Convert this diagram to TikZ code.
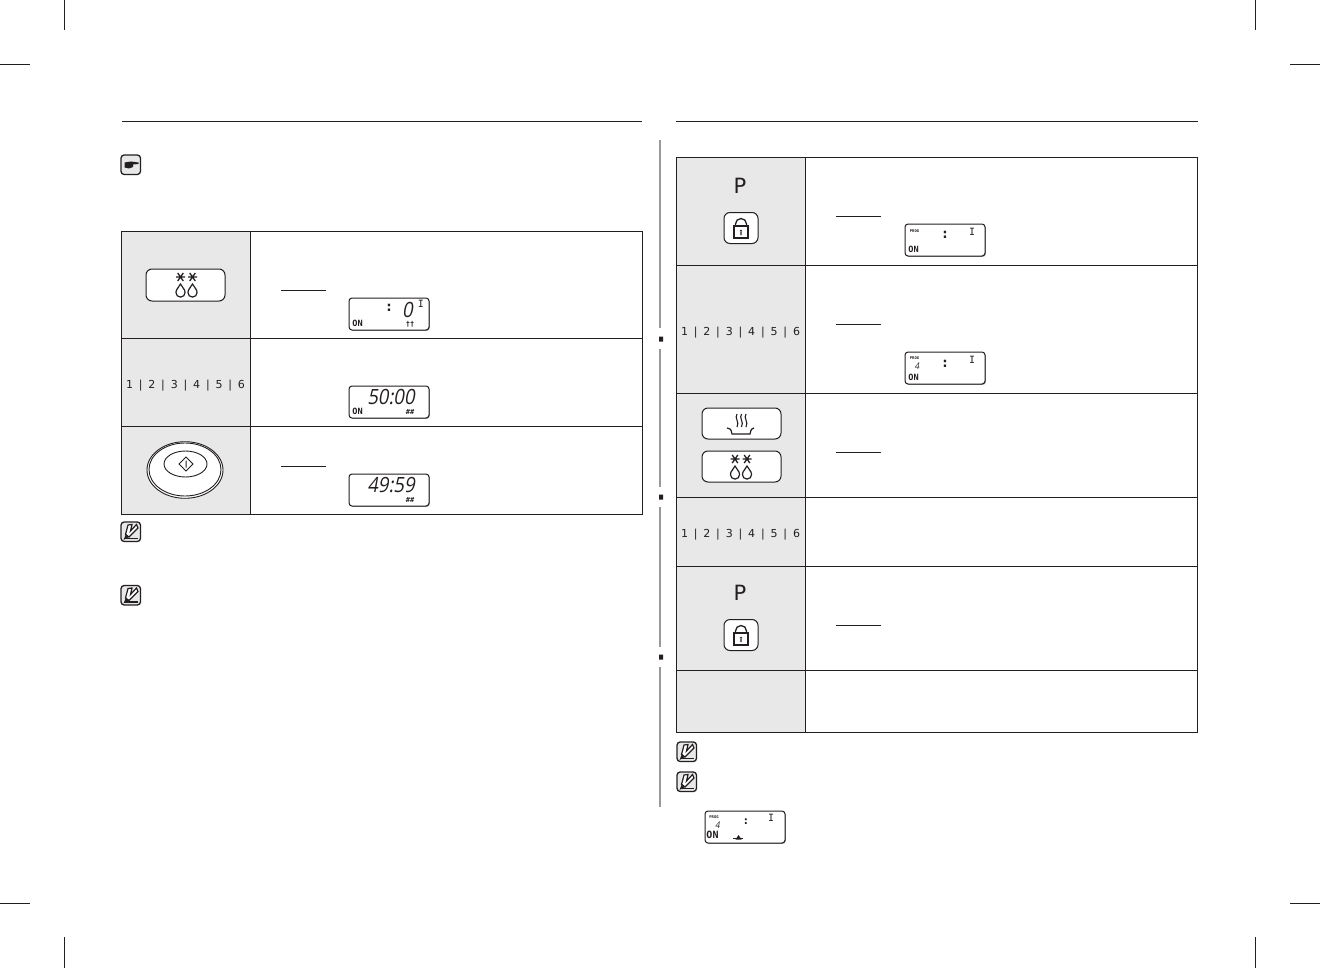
\documentclass[tikz,border=0pt]{standalone}
\usepackage{fontspec}
\setmainfont{DejaVu Sans}
\newfontfamily\lcdfont[FakeSlant=0.18,FakeStretch=0.88]{Open Sans}
\newfontfamily\lcdb{DejaVu Sans Mono}
\definecolor{cellg}{HTML}{E8E8E8}
\definecolor{ink}{HTML}{231F20}
\definecolor{railg}{HTML}{999999}
\tikzset{
  x=0.5pt,y=-0.5pt,
  hair/.style={draw=ink,line width=0.5pt},
  thin px/.style={draw=ink,line width=0.45pt},
  rule/.style={draw=ink,line width=0.5pt},
  cell/.style={fill=cellg},
  keycap/.style={draw=ink,line width=0.5pt,fill=white,rounded corners=3pt},
  lcdfr/.style={draw=ink,line width=0.5pt,rounded corners=1.5pt,fill=white},
  seg/.style={font=\lcdfont\fontsize{10.5}{10.5}\selectfont,inner sep=0pt,text=ink},
  dots/.style={font=\lcdb\bfseries\fontsize{7}{7}\selectfont,inner sep=0pt,text=ink},
  onlab/.style={font=\lcdb\bfseries\fontsize{4.3}{4.3}\selectfont,inner sep=0pt,text=ink},
  barI/.style={font=\lcdb\fontsize{5}{5}\selectfont,inner sep=0pt,text=ink},
  prog/.style={font=\lcdb\bfseries\fontsize{1.9}{2}\selectfont,inner sep=0pt,text=ink},
  marks/.style={font=\lcdb\bfseries\fontsize{3.5}{3.5}\selectfont,inner sep=0pt,text=ink},
  small four/.style={font=\lcdfont\fontsize{4.6}{5}\selectfont,inner sep=0pt,text=ink},
  pad/.style={font=\fontsize{5.5}{6}\selectfont,inner sep=0pt,text=ink},
  keyP/.style={font=\fontsize{10.5}{11}\selectfont,inner sep=0pt,text=ink},
  pics/lcd/.style={code={
    \path[fill=railg,rounded corners=1.5pt] (0.8,0.8) rectangle (80.8,32.8);
    \path[lcdfr] (0,0) rectangle (80,32);
  }},
  pics/drops/.style={code={
    \foreach \s in {-6,6}{
      \draw[thin px,line width=0.65pt] (\s-4.5,-9)--(\s+4.5,-9) (\s-2.8,-13)--(\s+2.8,-5) (\s+2.8,-13)--(\s-2.8,-5);
      \draw[thin px,line width=0.6pt] (\s,-2) .. controls (\s+1,1) and (\s+4.6,3) .. (\s+4.6,6.5) arc (0:180:4.6) .. controls (\s-4.6,3) and (\s-1,1) .. (\s,-2) -- cycle;
    }
  }},
  pics/lock/.style={code={
    \path[keycap] (-17,-15.5) rectangle (17,15.5);
    \draw[thin px,line width=0.65pt] (-7,-2) rectangle (7,10);
    \draw[thin px,line width=0.65pt] (-5.5,-2) -- (-5.5,-4) arc (180:360:5.5) -- (5.5,-2);
    \fill[ink] (0,3) circle (1.3) (-0.6,3) rectangle (0.6,7);
  }},
  pics/note/.style={code={
    \path[draw=ink,line width=0.65pt,fill=cellg,rounded corners=1.6pt] (0,0) rectangle (19.5,19.5);
    \draw[ink,line width=0.6pt] (4,16.5) -- (17,16.5);
    \draw[ink,line width=0.6pt,fill=white] (4.5,12.5) -- (7,3) -- (11,2.5) -- (9.5,9) -- (15.5,2.5) -- (17,6) -- (8,15) -- cycle;
    \fill[ink] (2.5,18) -- (5,12) -- (8,15) -- cycle;
  }},
  pics/hand/.style={code={
    \path[draw=ink,line width=0.65pt,fill=cellg,rounded corners=1.6pt] (0,0) rectangle (19.5,19.5);
    \fill[ink] (3.5,7.5) -- (10,6.5) -- (17.5,7.5) -- (17.5,9) -- (12,9.5) -- (12,12) -- (8,13.5) -- (3.5,12.5) -- cycle;
  }},
}
\newcommand{\padrow}{\makebox[5.6pt]{1}\makebox[5.6pt]{|}\makebox[5.6pt]{2}\makebox[5.6pt]{|}\makebox[5.6pt]{3}\makebox[5.6pt]{|}\makebox[5.6pt]{4}\makebox[5.6pt]{|}\makebox[5.6pt]{5}\makebox[5.6pt]{|}\makebox[5.6pt]{6}}
\begin{document}
\begin{tikzpicture}
\useasboundingbox (0,0) rectangle (1320,968);
\fill[white] (0,0) rectangle (1320,968);
% crop marks
\draw[rule] (64.5,0)--(64.5,30) (1255.5,0)--(1255.5,30) (64.5,937)--(64.5,968) (1255.5,937)--(1255.5,968)
  (0,64.5)--(30,64.5) (1290,64.5)--(1320,64.5) (0,903.5)--(30,903.5) (1290,903.5)--(1320,903.5);
% headers
\draw[rule] (122,121.5)--(642,121.5) (676,121.5)--(1198,121.5);
% centre rail
\draw[railg,line width=1pt] (660,140)--(660,328) (660,349)--(660,487) (660,507)--(660,647) (660,667)--(660,807);
\fill[ink] (659,336.5) rectangle (663,341.5) (659,494.5) rectangle (663,499.5) (659,654.5) rectangle (663,659.5);
% left table
\fill[cell] (121.5,231.5) rectangle (250.5,514.5);
\draw[hair] (121.5,231.5) rectangle (642.5,514.5) (250.5,231.5)--(250.5,514.5) (121.5,338.5)--(642.5,338.5) (121.5,426.5)--(642.5,426.5);
% right table
\fill[cell] (676.5,157.5) rectangle (805.5,732.5);
\draw[hair] (676.5,157.5) rectangle (1197.5,732.5) (805.5,157.5)--(805.5,732.5)
  (676.5,265.5)--(1197.5,265.5) (676.5,393.5)--(1197.5,393.5) (676.5,497.5)--(1197.5,497.5) (676.5,566.5)--(1197.5,566.5) (676.5,670.5)--(1197.5,670.5);
% underlines
\draw[rule] (281,290.5)--(326,290.5) (281,466.5)--(326,466.5) (836,216.5)--(881,216.5) (836,324.5)--(881,324.5) (836,452.5)--(881,452.5) (836,625.5)--(881,625.5);
% icons
\pic at (121,155) {hand};
\pic at (121,522) {note};
\pic at (121,585.5) {note};
\pic at (677,742) {note};
\pic at (677,772) {note};
% left keys
\path[keycap] (146,269) rectangle (225,301);
\pic at (186.5,286) {drops};
\node[pad] (padA) at (185.5,385.5) {\padrow};
\path[draw=ink,line width=0.45pt,fill=white] (185,470) ellipse (38 and 28.3);
\path[draw=ink,line width=0.45pt] (185,469.5) ellipse (36 and 26.5);
\path[draw=ink,line width=0.45pt] (185.5,464) ellipse (21.5 and 13);
\draw[thin px,line width=0.5pt] (186,457)--(193,464)--(186,471)--(179,464)--cycle (186,460.5)--(186,467.5);
% right keys
\node[keyP] (keyP1) at (740,186) {P};
\pic at (741,228) {lock};
\node[pad] (padB) at (740.5,332.5) {\padrow};
\path[keycap] (702,408) rectangle (781,439);
\draw[thin px,line width=0.6pt] (727,428) .. controls (730,428) and (731,429) .. (732,434) -- (750,434) .. controls (751,429) and (752,428) .. (754,428);
\foreach \x in {737,741.5,746}
  \draw[thin px,line width=0.55pt] (\x,414) .. controls (\x-3,418) and (\x+3,422) .. (\x,427);
\path[keycap] (702,451) rectangle (781,482);
\pic at (741,468) {drops};
\node[pad] (padC) at (740.5,534.5) {\padrow};
\node[keyP] (keyP2) at (740,593) {P};
\pic at (741,635) {lock};
% LCD 1
\pic at (349,298) {lcd};
\node[dots] (l1c) at (389,308) {:};
\node[seg] (l1d) at (407.5,309.5) {0};
\node[barI] (l1i) at (421,304) {I};
\node[onlab] (l1on) at (357.5,323) {ON};
\node[marks] (l1s) at (410,324) {††};
% LCD 2
\pic at (349,386) {lcd};
\node[seg] (l2t) at (391,397.5) {50:00};
\node[onlab] (l2on) at (357.5,411) {ON};
\node[marks] (l2s) at (410,412) {\#\#};
% LCD 3
\pic at (349,474) {lcd};
\node[seg] (l3t) at (391,485.5) {49:59};
\node[marks] (l3s) at (410,500) {\#\#};
% LCD 4
\pic at (905,224) {lcd};
\node[prog] (l4p) at (914.5,231) {PROG};
\node[dots] (l4c) at (945,235) {:};
\node[barI] (l4i) at (972,231.5) {I};
\node[onlab] (l4on) at (913.5,249) {ON};
% LCD 5
\pic at (905,352) {lcd};
\node[prog] (l5p) at (914.5,358.5) {PROG};
\node[small four] (l5d) at (917,366) {4};
\node[dots] (l5c) at (945,364) {:};
\node[barI] (l5i) at (972,359.5) {I};
\node[onlab] (l5on) at (913.5,377) {ON};
% LCD 6
\pic at (705,811) {lcd};
\node[prog] (l6p) at (714,817.5) {PROG};
\node[small four] (l6d) at (717.5,825) {4};
\node[dots,font=\lcdb\bfseries\fontsize{5.5}{5.5}\selectfont] (l6c) at (746,822) {:};
\node[barI] (l6i) at (771,817.5) {I};
\node[onlab,font=\lcdb\bfseries\fontsize{5}{5}\selectfont] (l6on) at (712.5,835) {ON};
\draw[thin px,line width=0.5pt] (733,838.5)--(743,838.5);
\fill[ink] (735.5,839.5)--(741.5,839.5)--(738.5,835)--cycle;
\end{tikzpicture}
\end{document}
